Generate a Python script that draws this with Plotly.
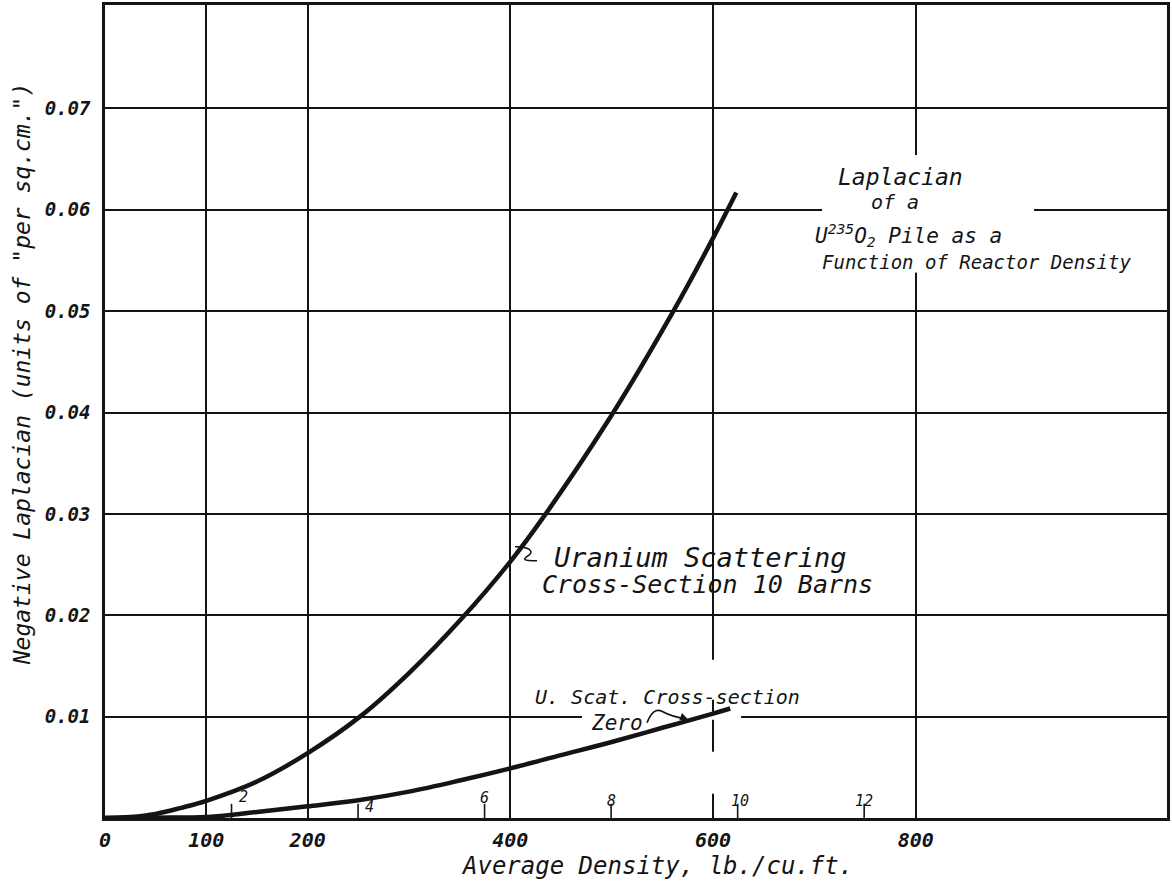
import plotly.graph_objects as go

# ---------------- data ----------------
# Uranium scattering cross-section 10 barns
density_10_barns = [0, 25, 50, 75, 100, 150, 200, 251.6, 300, 351.3, 400, 434.2, 499.1, 560.9, 600, 623]
laplacian_10_barns = [0, 0.0001, 0.0004, 0.0010, 0.0017, 0.0036, 0.0064, 0.0100, 0.0143, 0.0196,
                      0.0253, 0.0299, 0.0396, 0.0500, 0.0572, 0.0617]

# Uranium scattering cross-section zero
density_zero = [0, 50, 100, 125, 150, 200, 250, 300, 350, 400, 450, 500, 550, 600, 617]
laplacian_zero = [0, 0.00003, 0.0001, 0.0003, 0.0006, 0.00115, 0.00175, 0.0026, 0.0037, 0.0049,
                  0.0062, 0.0075, 0.0089, 0.0103, 0.0108]

x_tick_values = [0, 100, 200, 400, 600, 800]
x_tick_labels = ["0", "100", "200", "400", "600", "800"]
y_tick_values = [0.01, 0.02, 0.03, 0.04, 0.05, 0.06, 0.07]
y_tick_labels = ["0.01", "0.02", "0.03", "0.04", "0.05", "0.06", "0.07"]

# secondary density scale (g/cc) marked along the x axis
gcc_tick_values = [2, 4, 6, 8, 10, 12]
gcc_tick_labels = ["2", "4", "6", "8", "10", "12"]
LB_CUFT_PER_GCC = 62.43

# ---------------- style ----------------
INK = "#141414"
FONT = "DejaVu Sans Mono"
X_RANGE = [0, 1048]
Y_RANGE = [0, 0.0802]
SEC_TICK_H = 0.0014
sec_label_y = [0.0021, 0.00112, 0.0020, 0.0017, 0.0017, 0.0017]
sec_label_dx = [12, 11, 0, 0, 2, 0]


def txt(size, bold=False):
    return dict(family=FONT, size=size, color=INK, style="italic",
                weight="bold" if bold else "normal")


fig = go.Figure()

# secondary tick marks
sx, sy = [], []
for g in gcc_tick_values:
    x = g * LB_CUFT_PER_GCC
    sx += [x, x, None]
    sy += [0, SEC_TICK_H, None]
fig.add_trace(go.Scatter(x=sx, y=sy, mode="lines", line=dict(color=INK, width=1.6),
                         hoverinfo="skip", showlegend=False))

fig.add_trace(go.Scatter(x=density_10_barns, y=laplacian_10_barns, mode="lines",
                         line=dict(color=INK, width=4.5, shape="spline", smoothing=1.0),
                         name="10 barns", showlegend=False))
fig.add_trace(go.Scatter(x=density_zero, y=laplacian_zero, mode="lines",
                         line=dict(color=INK, width=4.5, shape="spline", smoothing=1.0),
                         name="zero", showlegend=False))

# breaks in the grid where the lettering sits
gaps = [
    (707.6, 916.8, 0.0597, 0.0603),   # 0.06 line behind the title
    (797, 803, 0.0538, 0.0654),       # 800 line behind the title
    (597, 603, 0.01167, 0.01561),     # 600 line near "U. Scat."
    (597, 603, 0.0024, 0.00654),      # 600 line lower break
    (470.7, 627.7, 0.0097, 0.0103),   # 0.01 line behind "Zero"
]
shapes = []
for x0, x1, y0, y1 in gaps:
    shapes.append(dict(type="rect", xref="x", yref="y", x0=x0, x1=x1, y0=y0, y1=y1,
                       fillcolor="white", line=dict(width=0), layer="between"))

# hook from "Uranium Scattering" label to its curve
shapes.append(dict(type="path", xref="x", yref="y",
                   path="M 404.6,0.02676 C 418,0.0268 424,0.0263 418,0.0259 S 412,0.0254 426.3,0.02538",
                   line=dict(color=INK, width=1.6)))
# curly arrow from "Zero" to its curve
shapes.append(dict(type="path", xref="x", yref="y",
                   path="M 534.9,0.0094 Q 541,0.0110 550,0.0105 T 574,0.00975",
                   line=dict(color=INK, width=1.6)))

annotations = [
    dict(x=785.5, y=0.06326, text="Laplacian", font=txt(23)),
    dict(x=779.6, y=0.0608, text="of a", font=txt(20)),
    dict(x=793, y=0.05752, text="U<sup>235</sup>O<sub>2</sub> Pile as a", font=txt(21)),
    dict(x=859.6, y=0.05486, text="Function of Reactor Density", font=txt(19)),
    dict(x=441.1, y=0.02567, text="Uranium Scattering", font=txt(27), xanchor="left"),
    dict(x=429.4, y=0.02301, text="Cross-Section 10 Barns", font=txt(25), xanchor="left"),
    dict(x=422.4, y=0.01196, text="U. Scat. Cross-section", font=txt(20), xanchor="left"),
    dict(x=477.6, y=0.0094, text="Zero", font=txt(21), xanchor="left"),
    dict(x=575.4, y=0.00972, ax=567, ay=0.01003, axref="x", ayref="y", text="",
         showarrow=True, arrowhead=2, arrowsize=1, arrowwidth=1.6, arrowcolor=INK),
    dict(xref="paper", yref="paper", x=0.520, y=-0.059, text="Average Density, lb./cu.ft.",
         font=txt(24), xanchor="center", yanchor="middle"),
    dict(xref="paper", yref="paper", x=-0.078, y=0.546, textangle=-90,
         text='Negative Laplacian (units of "per sq.cm.")', font=txt(23),
         xanchor="center", yanchor="middle"),
]
for lbl, g, ly, dx in zip(gcc_tick_labels, gcc_tick_values, sec_label_y, sec_label_dx):
    annotations.append(dict(x=g * LB_CUFT_PER_GCC, y=ly, xshift=dx, text=lbl, font=txt(15)))

for a in annotations:
    a.setdefault("xref", "x")
    a.setdefault("yref", "y")
    a.setdefault("showarrow", False)

fig.update_layout(
    width=1172, height=888,
    margin=dict(l=105, r=5, t=5, b=70, autoexpand=False),
    paper_bgcolor="white", plot_bgcolor="white",
    shapes=shapes, annotations=annotations,
    showlegend=False,
    xaxis=dict(range=X_RANGE, tickmode="array", tickvals=x_tick_values, ticktext=x_tick_labels,
               showgrid=True, gridcolor=INK, gridwidth=2, zeroline=False, automargin=False,
               showline=True, linecolor=INK, linewidth=2.5, mirror=True,
               ticks="outside", ticklen=2, tickcolor="rgba(0,0,0,0)",
               tickfont=txt(20, bold=True)),
    yaxis=dict(range=Y_RANGE, tickmode="array", tickvals=y_tick_values, ticktext=y_tick_labels,
               showgrid=True, gridcolor=INK, gridwidth=2, zeroline=False, automargin=False,
               showline=True, linecolor=INK, linewidth=2.5, mirror=True,
               ticks="outside", ticklen=8, tickcolor="rgba(0,0,0,0)",
               tickfont=txt(19, bold=True)),
)

fig.write_html("out.html", config={"displayModeBar": False},
               post_script="document.body.style.margin='0';")
